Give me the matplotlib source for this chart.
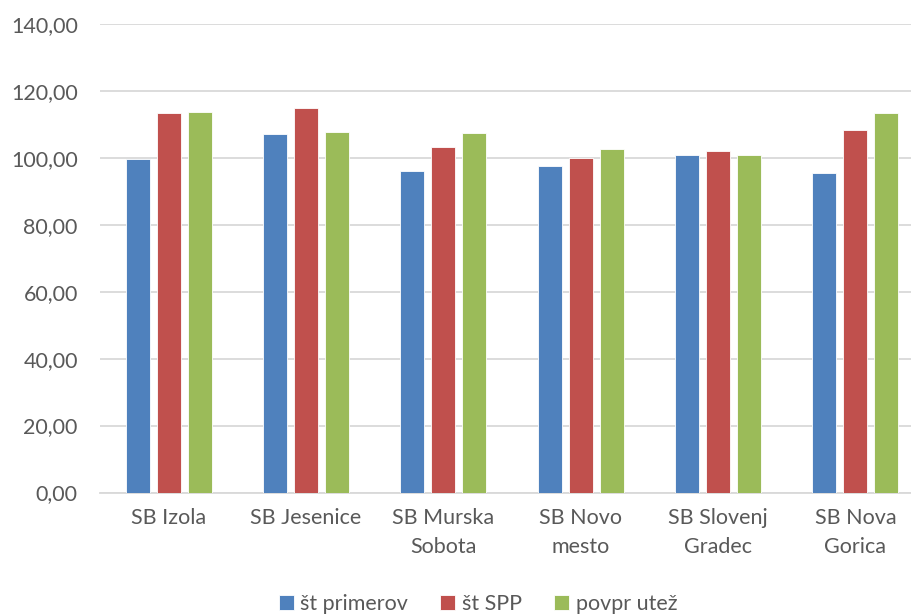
import numpy as np
import matplotlib.pyplot as plt

plt.rcParams['font.family'] = ['Lato', 'DejaVu Sans']

categories = ['SB Izola', 'SB Jesenice', 'SB Murska\nSobota', 'SB Novo\nmesto',
              'SB Slovenj\nGradec', 'SB Nova\nGorica']
st_primerov = [99.8, 107.1, 96.0, 97.7, 100.8, 95.6]
st_spp = [113.3, 114.9, 103.1, 100.1, 101.9, 108.2]
povpr_utez = [113.6, 107.6, 107.4, 102.5, 101.0, 113.3]
series_names = ['št primerov', 'št SPP', 'povpr utež']
colors = ['#4F81BD', '#C0504D', '#9BBB59']
yticks = np.arange(0, 141, 20)

fig = plt.figure(figsize=(9.12, 6.14), dpi=100)
# chart runs past the right edge of the picture, like the original
ax = fig.add_axes([100/912, 1-492.5/614, 824/912, 468.5/614])

x = np.arange(len(categories))
step = 0.226
width = 0.174
for i, (vals, name, col) in enumerate(zip([st_primerov, st_spp, povpr_utez], series_names, colors)):
    ax.bar(x + (i-1)*step, vals, width, color=col, label=name, zorder=3,
           edgecolor='white', linewidth=0.6)

ax.set_xlim(-0.5, len(categories)-0.5)
ax.set_ylim(0, 140)
ax.set_yticks(yticks)
ax.set_yticklabels([f'{v:.2f}'.replace('.', ',') for v in yticks])
ax.set_xticks(x)
ax.set_xticklabels(categories, linespacing=1.6)
ax.grid(axis='y', color='#D9D9D9', linewidth=1.3, zorder=0)
for s in ['top', 'right', 'left']:
    ax.spines[s].set_visible(False)
ax.spines['bottom'].set_color('#D9D9D9')
ax.spines['bottom'].set_linewidth(1.3)
ax.tick_params(axis='both', length=0, labelsize=15.5, colors='#595959')
ax.tick_params(axis='y', pad=16)
ax.tick_params(axis='x', pad=11)

fig.legend(loc='center', bbox_to_anchor=(478/912, 1-604/614), ncol=3, frameon=False,
           fontsize=15.5, labelcolor='#595959', handlelength=0.7, handleheight=0.7,
           handletextpad=0.3, columnspacing=1.5)

fig.savefig('out.png', dpi=100)
